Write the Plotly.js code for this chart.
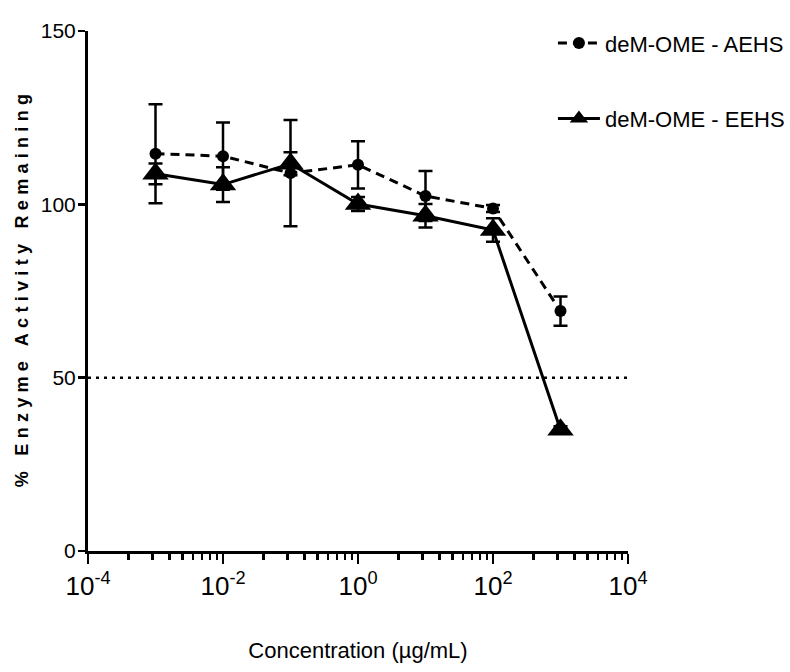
<!DOCTYPE html>
<html>
<head>
<meta charset="utf-8">
<script src="https://cdn.plot.ly/plotly-3.0.1.min.js"></script>
<style>html,body{margin:0;padding:0;background:#fff}</style>
</head>
<body>
<div id="chart" style="width:790px;height:672px"></div>
<script>
// Concentration in µg/mL (log scale) and % enzyme activity remaining (mean ± error)
const concentration = [1e-3, 1e-2, 1e-1, 1, 10, 100, 1000];
const aehsMean = [114.6, 113.9, 109.0, 111.4, 102.4, 98.8, 69.2];
const aehsErr  = [14.3, 9.7, 15.3, 6.8, 7.2, 1.0, 4.2];
const eehsMean = [108.8, 105.7, 111.7, 100.1, 96.7, 92.6, 35.0];
const eehsErr  = [3.0, 5.0, 3.3, 2.0, 3.4, 3.4, 1.0];
const seriesNames = ['deM-OME - AEHS', 'deM-OME - EEHS'];

const xTickVals = [1e-4, 1e-2, 1, 1e2, 1e4];
const xTickText = ['10<sup>-4</sup>', '10<sup>-2</sup>', '10<sup>0</sup>', '10<sup>2</sup>', '10<sup>4</sup>'];
const yTickVals = [0, 50, 100, 150];
const yTickText = ['0', '50', '100', '150'];
const halfActivity = 50;

const sans = '"Liberation Sans", Arial, sans-serif';

// minor ticks: k^2 steps across each two-decade span
const minorVals = [];
xTickVals.slice(0, -1).forEach(m => { for (let k = 2; k <= 9; k++) minorVals.push(m * k * k); });

const traces = [
  {
    x: concentration, y: aehsMean, name: seriesNames[0], type: 'scatter', mode: 'lines+markers',
    legendgroup: 'a',
    line: {color: '#000', width: 3, dash: '9px,6px'},
    marker: {symbol: 'circle', size: 12, color: '#000'},
    error_y: {type: 'data', array: aehsErr, visible: true, color: '#000', thickness: 2.5, width: 7}
  },
  {
    x: concentration, y: eehsMean, name: seriesNames[1], type: 'scatter', mode: 'lines+markers',
    legendgroup: 'b',
    line: {color: '#000', width: 3},
    marker: {symbol: 'triangle-up', size: 23, color: '#000'},
    error_y: {type: 'data', array: eehsErr, visible: true, color: '#000', thickness: 2.5, width: 7}
  }
];

const layout = {
  width: 790, height: 672,
  margin: {l: 88, r: 162, t: 31, b: 121, autoexpand: false},
  paper_bgcolor: '#fff', plot_bgcolor: '#fff',
  font: {family: sans, color: '#000'},
  showlegend: true,
  legend: {
    x: 0.861, y: 1.017, xanchor: 'left', yanchor: 'top',
    font: {family: sans, size: 22, color: '#000'},
    itemwidth: 42,
    traceorder: 'grouped', tracegroupgap: 44,
    bgcolor: 'rgba(0,0,0,0)', borderwidth: 0
  },
  xaxis: {
    type: 'log', range: [-4, 4],
    showgrid: false, zeroline: false,
    showline: true, linecolor: '#000', linewidth: 3,
    ticks: 'outside', ticklen: 10, tickwidth: 2.5, tickcolor: '#000',
    tickmode: 'array', tickvals: xTickVals, ticktext: xTickText,
    tickfont: {family: sans, size: 26, color: '#000'},
    minor: {tickmode: 'array', tickvals: minorVals, ticks: 'outside', ticklen: 6, tickwidth: 2.5, tickcolor: '#000', showgrid: false},
    title: {text: 'Concentration (\u00b5g/mL)', font: {family: sans, size: 22, color: '#000'}, standoff: 43},
    automargin: false
  },
  yaxis: {
    range: [0, 150],
    showgrid: false, zeroline: false,
    showline: true, linecolor: '#000', linewidth: 3,
    ticks: 'outside', ticklen: 7, tickwidth: 2.5, tickcolor: '#000',
    tickmode: 'array', tickvals: yTickVals, ticktext: yTickText,
    ticklabelstandoff: -2,
    tickfont: {family: sans, size: 21, color: '#000'},
    title: {text: '% Enzyme Activity Remaining', font: {family: sans, size: 18, weight: 'bold', color: '#000'}, standoff: 8},
    automargin: false
  },
  shapes: [{
    type: 'line', xref: 'paper', x0: 0, x1: 1, yref: 'y', y0: halfActivity, y1: halfActivity,
    line: {color: '#000', width: 2.5, dash: '3px,5px'}
  }]
};

Plotly.newPlot('chart', traces, layout, {staticPlot: true}).then(gd => {
  const t = gd.querySelector('.ytitle');
  if (t) {
    t.setAttribute('letter-spacing', '5.3');
    t.setAttribute('dx', '3');
  }
});
</script>
</body>
</html>
